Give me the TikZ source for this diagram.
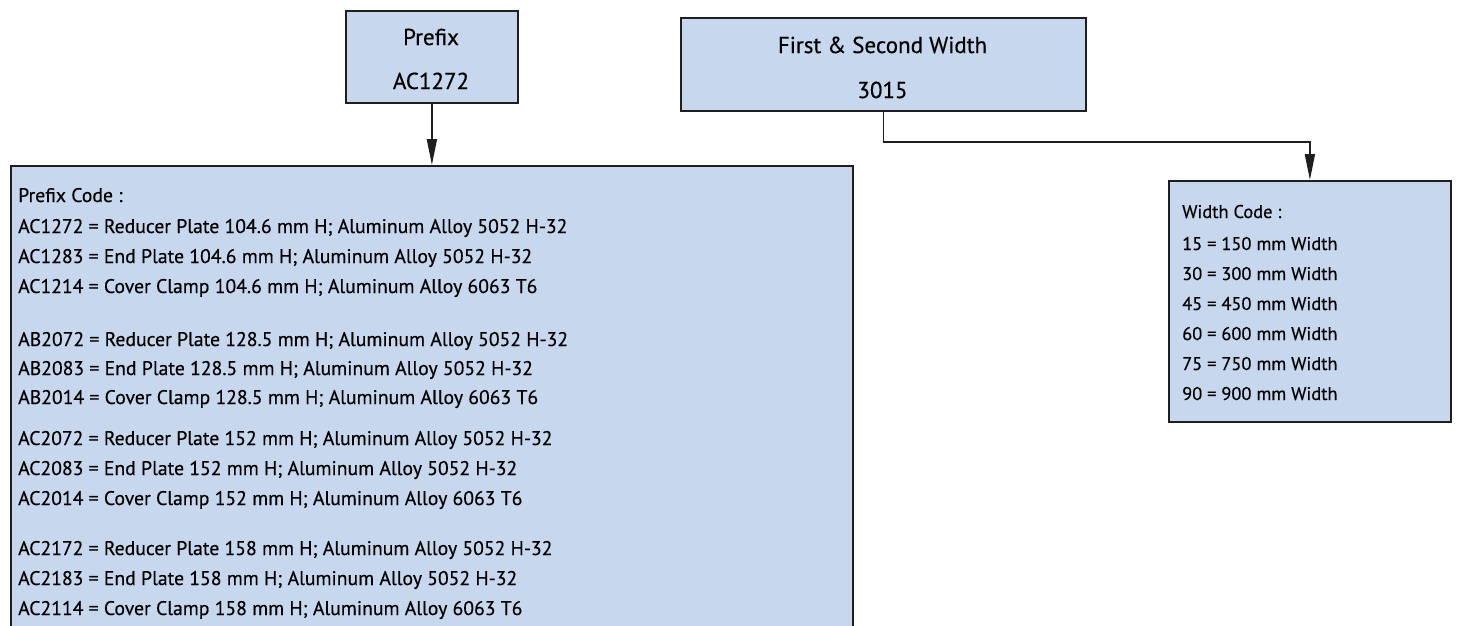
\documentclass[tikz,border=0pt]{standalone}
\usepackage{fontspec}
\setmainfont{PT Sans}[FakeBold=0.4]
\usetikzlibrary{arrows.meta}
\definecolor{boxfill}{RGB}{199,215,237}
\definecolor{boxline}{RGB}{30,30,30}
\begin{document}
\begin{tikzpicture}[x=1pt,y=-1pt,
  box/.style={draw=boxline, line width=1.8pt, fill=boxfill, inner sep=0pt, anchor=north west},
  conn/.style={line width=1.8pt, draw=boxline, -{Triangle[length=26pt,width=10pt]}},
  title/.style={anchor=base, inner sep=0pt, font=\fontsize{23}{26}\selectfont},
  codetxt/.style={anchor=base west, inner sep=0pt, font=\fontsize{19.7}{22}\selectfont},
  wtxt/.style={anchor=base west, inner sep=0pt, font=\fontsize{18.4}{21}\selectfont}]
\useasboundingbox (0,0) rectangle (1462,625);
\clip (0,0) rectangle (1462,625);
\fill[white] (0,0) rectangle (1462,625);

% top boxes
\node[box, minimum width=172pt, minimum height=92pt] (prefix) at (345,10) {};
\node[title] (prefixT) at (431,45) {Prefix};
\node[title] (prefixV) at (431,89) {AC1272};

\node[box, minimum width=405pt, minimum height=93pt] (first) at (680,17) {};
\node[title] (firstT) at (882.5,53) {First \& Second Width};
\node[title] (firstV) at (882.5,98) {3015};

% code boxes
\node[box, minimum width=842pt, minimum height=500pt] (codes) at (10,165) {};
\node[box, minimum width=282pt, minimum height=241pt] (wcodes) at (1168,180) {};

% connectors
\draw[conn] (prefix.south) -- (codes.north);
\draw[conn] (first.south) -- ++(0,30) -| (wcodes.north);

% prefix codes
\node[codetxt] (c0) at (18,202) {Prefix Code :};
\node[codetxt] (c1) at (18,233) {AC1272 = Reducer Plate 104.6 mm H; Aluminum Alloy 5052 H-32};
\node[codetxt] (c2) at (18,263) {AC1283 = End Plate 104.6 mm H; Aluminum Alloy 5052 H-32};
\node[codetxt] (c3) at (18,293) {AC1214 = Cover Clamp 104.6 mm H; Aluminum Alloy 6063 T6};
\node[codetxt] (c4) at (18,346) {AB2072 = Reducer Plate 128.5 mm H; Aluminum Alloy 5052 H-32};
\node[codetxt] (c5) at (18,375) {AB2083 = End Plate 128.5 mm H; Aluminum Alloy 5052 H-32};
\node[codetxt] (c6) at (18,404) {AB2014 = Cover Clamp 128.5 mm H; Aluminum Alloy 6063 T6};
\node[codetxt] (c7) at (18,445) {AC2072 = Reducer Plate 152 mm H; Aluminum Alloy 5052 H-32};
\node[codetxt] (c8) at (18,475) {AC2083 = End Plate 152 mm H; Aluminum Alloy 5052 H-32};
\node[codetxt] (c9) at (18,505) {AC2014 = Cover Clamp 152 mm H; Aluminum Alloy 6063 T6};
\node[codetxt] (c10) at (18,555) {AC2172 = Reducer Plate 158 mm H; Aluminum Alloy 5052 H-32};
\node[codetxt] (c11) at (18,585) {AC2183 = End Plate 158 mm H; Aluminum Alloy 5052 H-32};
\node[codetxt] (c12) at (18,615) {AC2114 = Cover Clamp 158 mm H; Aluminum Alloy 6063 T6};

% width codes
\node[wtxt] (w0) at (1182,218) {Width Code :};
\node[wtxt] (w1) at (1182,250) {15 = 150 mm Width};
\node[wtxt] (w2) at (1182,280) {30 = 300 mm Width};
\node[wtxt] (w3) at (1182,310) {45 = 450 mm Width};
\node[wtxt] (w4) at (1182,340) {60 = 600 mm Width};
\node[wtxt] (w5) at (1182,370) {75 = 750 mm Width};
\node[wtxt] (w6) at (1182,400) {90 = 900 mm Width};
\end{tikzpicture}
\end{document}
